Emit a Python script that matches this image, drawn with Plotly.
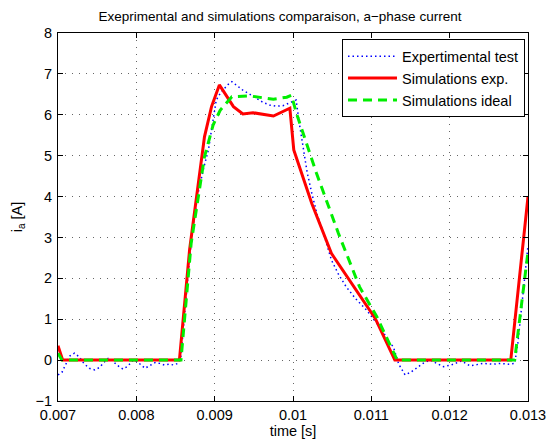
import plotly.graph_objects as go

# Experimental test (blue dotted)
exp_t = [0.00700, 0.00705, 0.00710, 0.00715, 0.00721, 0.00727, 0.00733, 0.00740, 0.00747, 0.00753,
         0.00759, 0.00764, 0.00769, 0.00775, 0.00783, 0.00789, 0.00796, 0.00802, 0.00811, 0.00817,
         0.00824, 0.00830, 0.00836, 0.00842, 0.00848, 0.00853, 0.00857, 0.00862, 0.00868, 0.00874,
         0.00879, 0.00886, 0.00892, 0.00897, 0.00902, 0.00908, 0.00917, 0.00922, 0.00928, 0.00936,
         0.00945, 0.00953, 0.00962, 0.00970, 0.00978, 0.00987, 0.00998, 0.01004, 0.01008, 0.01013,
         0.01018, 0.01024, 0.01031, 0.01039, 0.01049, 0.01058, 0.01068, 0.01080, 0.01094, 0.01105,
         0.01115, 0.01122, 0.01128, 0.01135, 0.01143, 0.01150, 0.01158, 0.01166, 0.01175, 0.01183,
         0.01192, 0.01202, 0.01215, 0.01226, 0.01235, 0.01243, 0.01255, 0.01265, 0.01275, 0.01283,
         0.01287, 0.01292, 0.01300]
exp_i = [-0.36, -0.30, -0.10, 0.10, 0.17, 0.08, -0.08, -0.20, -0.24, -0.18,
         -0.05, 0.04, 0.00, -0.12, -0.22, -0.15, 0.00, -0.05, -0.20, -0.14,
         -0.06, -0.08, -0.12, -0.10, -0.12, -0.08, 0.10, 1.20, 2.50, 3.50,
         4.10, 4.70, 5.14, 5.75, 6.36, 6.55, 6.74, 6.81, 6.72, 6.60,
         6.50, 6.40, 6.30, 6.24, 6.21, 6.22, 6.32, 6.36, 5.80, 5.20,
         4.60, 4.08, 3.55, 3.10, 2.45, 2.10, 1.79, 1.50, 1.22, 0.95,
         0.70, 0.45, 0.33, -0.10, -0.36, -0.30, -0.20, -0.08, 0.00, -0.08,
         -0.16, -0.12, -0.02, -0.14, -0.10, -0.08, -0.10, -0.08, -0.10, -0.08,
         0.40, 1.30, 2.80]

# Simulations exp. (red solid)
sim_t = [0.00700, 0.00706, 0.00855, 0.00868, 0.00887, 0.00896, 0.00906, 0.00924, 0.00936, 0.00949,
         0.00975, 0.00996, 0.01001, 0.01024, 0.01049, 0.01105, 0.01130, 0.01278, 0.01300]
sim_i = [0.35, 0.00, 0.00, 2.70, 5.46, 6.20, 6.73, 6.20, 6.02, 6.05,
         5.97, 6.16, 5.14, 3.83, 2.61, 1.02, 0.00, 0.00, 4.00]

# Simulations ideal (green dashed)
ide_t = [0.00700, 0.00705, 0.00857, 0.00870, 0.00887, 0.00898, 0.00907, 0.00922, 0.00945, 0.00975,
         0.00992, 0.00998, 0.01005, 0.01030, 0.01058, 0.01085, 0.01107, 0.01133, 0.01283, 0.01300]
ide_i = [0.17, 0.00, 0.00, 2.86, 4.97, 5.75, 6.11, 6.44, 6.46, 6.38,
         6.43, 6.48, 6.00, 4.57, 3.10, 1.79, 1.06, 0.00, 0.00, 2.65]

x_ticks = [0.007, 0.008, 0.009, 0.010, 0.011, 0.012, 0.013]
x_labels = ["0.007", "0.008", "0.009", "0.01", "0.011", "0.012", "0.013"]
y_ticks = [-1, 0, 1, 2, 3, 4, 5, 6, 7, 8]

FONT = "Liberation Sans, Arial, Helvetica, sans-serif"

fig = go.Figure()
fig.add_trace(go.Scatter(x=exp_t, y=exp_i, mode="lines", name="Expertimental test",
                         line=dict(color="#0000ff", width=1.5, dash="1.5px,3px")))
fig.add_trace(go.Scatter(x=sim_t, y=sim_i, mode="lines", name="Simulations exp.",
                         line=dict(color="#ff0000", width=3)))
fig.add_trace(go.Scatter(x=ide_t, y=ide_i, mode="lines", name="Simulations ideal",
                         line=dict(color="#00ee00", width=3, dash="9px,6px")))

axis_common = dict(showline=True, linecolor="black", linewidth=1, mirror="ticks",
                   ticks="inside", ticklen=5, tickcolor="black", tickwidth=1,
                   showgrid=True, gridcolor="#666666", griddash="1px,6px", gridwidth=1,
                   zeroline=False, automargin=False,
                   tickfont=dict(family=FONT, size=14.5, color="black"))

fig.update_layout(
    width=547, height=439,
    margin=dict(l=58, r=19, t=33, b=38, autoexpand=False),
    paper_bgcolor="white", plot_bgcolor="white",
    font=dict(family=FONT, color="black"),
    title=dict(text="Exeprimental and simulations comparaison, a\u2212phase current",
               x=(280 - 58) / 470, xref="paper", xanchor="center",
               y=1 - 16 / 439, yanchor="middle",
               font=dict(family=FONT, size=13.5, color="black")),
    xaxis=dict(range=[0.007, 0.013], tickvals=x_ticks, ticktext=x_labels,
               ticklabelstandoff=1,
               title=dict(text="time [s]", font=dict(family=FONT, size=14.5), standoff=0),
               **axis_common),
    yaxis=dict(range=[-1, 8], tickvals=y_ticks, ticklabelstandoff=2,
               title=dict(text="i<sub>a</sub> [A]", font=dict(family=FONT, size=14.5), standoff=9),
               **axis_common),
    legend=dict(x=0.9936, y=0.983, xanchor="right", yanchor="top",
                bgcolor="white", bordercolor="black", borderwidth=1,
                font=dict(family=FONT, size=14.5, color="black"),
                tracegroupgap=0, itemwidth=49),
    showlegend=True,
)

fig.write_html("out.html")
